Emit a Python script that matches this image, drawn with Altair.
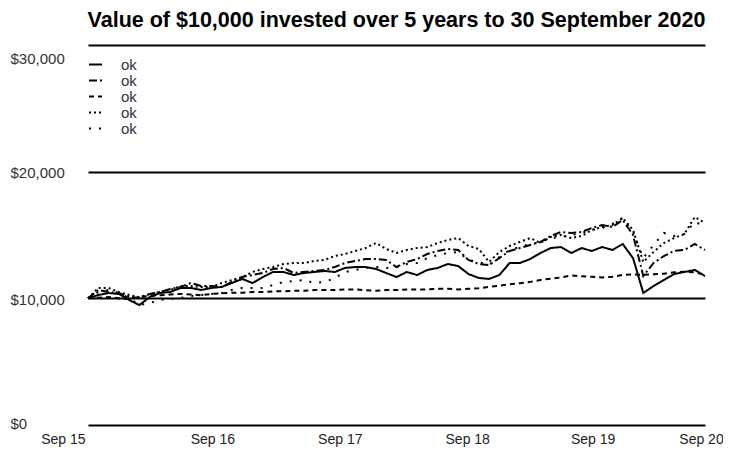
import altair as alt
import pandas as pd

months = list(range(61))

series_names = ["s1", "s2", "s3", "s4", "s5"]

s1 = [10000, 10260, 10420, 10340, 9870, 9470, 10100, 10420, 10500, 10820, 10820, 10660, 10820,
      10900, 11210, 11530, 11210, 11680, 12080, 12080, 11840, 12000, 12080, 12160, 12080,
      12400, 12470, 12470, 12320, 12000, 11680, 12080, 11840, 12240, 12400, 12710, 12550,
      11920, 11610, 11530, 11840, 12790, 12790, 13100, 13580, 13970, 14050, 13580, 13970,
      13740, 14050, 13820, 14290, 13180, 10420, 10970, 11450, 11920, 12080, 12240, 11760]

s2 = [10000, 10660, 10500, 10420, 10100, 10030, 10340, 10500, 10740, 10900, 11210, 10970, 10970,
      10900, 11290, 11680, 11840, 12000, 12320, 12400, 12000, 12080, 12160, 12240, 12470,
      12790, 12950, 13100, 13100, 13030, 12470, 12870, 13100, 13500, 13740, 13900, 13820,
      13030, 12710, 12630, 13180, 13740, 13970, 14210, 14450, 14920, 15240, 15160, 15240,
      15550, 15790, 15630, 16180, 15000, 11760, 12790, 13340, 13740, 13820, 14290, 13820]

s3 = [10000, 10050, 10100, 10000, 9950, 10100, 10200, 10250, 10300, 10350, 10300, 10250, 10350,
      10400, 10450, 10450, 10500, 10500, 10550, 10550, 10600, 10600, 10650, 10650, 10650,
      10700, 10700, 10650, 10600, 10650, 10650, 10700, 10700, 10700, 10750, 10750, 10700,
      10750, 10800, 10900, 11000, 11100, 11200, 11300, 11450, 11550, 11650, 11800, 11750,
      11700, 11650, 11700, 11850, 11900, 11850, 11900, 11950, 12050, 12100, 12050, 11850]

s4 = [10000, 10820, 10820, 10500, 10260, 10100, 10340, 10500, 10660, 10970, 10970, 10900, 10900,
      11210, 11450, 11680, 12080, 12320, 12470, 12710, 12790, 12790, 12950, 13030, 13340,
      13500, 13740, 13970, 14370, 13900, 13580, 13820, 13970, 14050, 14370, 14610, 14760,
      14130, 13900, 12870, 13660, 14130, 14450, 14760, 14370, 14840, 15000, 14760, 14920,
      15400, 15630, 15790, 16340, 15400, 12870, 13660, 14370, 14760, 15080, 16420, 15950]

s5 = [10000, 10500, 10660, 10420, 10030, 9470, 9630, 9870, 9950, 10030, 10180, 10260, 10340,
      10420, 10660, 10820, 10820, 10820, 11050, 11290, 11370, 11450, 11210, 11290, 11610,
      12080, 12240, 12400, 12470, 12400, 12470, 12710, 12790, 13180, 13420, 13580, 13660,
      13030, 12870, 12630, 13260, 13820, 14050, 14290, 14450, 14760, 14840, 15000, 15160,
      15400, 15550, 15870, 16340, 15240, 13180, 14210, 15160, 14920, 15080, 16030, 15710]

dashes = [[1, 0], [8, 3, 2, 3], [5, 4], [2, 3], [2, 8]]

x_ticks = [0, 12, 24, 36, 48, 60]
y_ticks = [0, 10000, 20000, 30000]

rows = []
for name, vals in zip(series_names, [s1, s2, s3, s4, s5]):
    for m, v in zip(months, vals):
        rows.append({"month": m, "value": v, "series": name})
df = pd.DataFrame(rows)

x_label_offset = ("datum.value == 0 ? -3 : datum.value == 12 ? 1 : datum.value == 24 ? 5 : "
                  "datum.value == 36 ? 9 : datum.value == 48 ? 11 : -4")

chart = alt.Chart(df).mark_line(color="black", strokeWidth=2).encode(
    x=alt.X("month:Q", scale=alt.Scale(domain=[0, 60], nice=False),
            axis=alt.Axis(values=x_ticks, title=None, grid=False, domain=False, ticks=False,
                          labelExpr="'Sep ' + (15 + datum.value / 12)",
                          labelAlign=alt.expr("datum.value == 0 ? 'right' : 'center'"),
                          labelOffset=alt.expr(x_label_offset),
                          labelFontSize=14, labelColor="#222", labelPadding=7,
                          labelFont="Liberation Sans")),
    y=alt.Y("value:Q", scale=alt.Scale(domain=[0, 30000], nice=False),
            axis=alt.Axis(values=y_ticks, title=None, domain=False, ticks=False, tickSize=0,
                          format="$,.0f", labelAlign="left", labelPadding=78,
                          labelOffset=alt.expr("datum.value == 30000 ? 13 : datum.value == 0 ? -2 : 1"),
                          labelFontSize=15, labelColor="#333", labelFont="Liberation Sans",
                          grid=True, gridColor="black", gridWidth=2, gridOpacity=1)),
    strokeDash=alt.StrokeDash("series:N",
                              scale=alt.Scale(domain=series_names, range=dashes),
                              legend=alt.Legend(title=None, orient="none", legendX=0, legendY=12,
                                                labelExpr="'ok'", symbolType="stroke",
                                                symbolSize=169, symbolStrokeWidth=2,
                                                symbolStrokeColor="black",
                                                labelFontSize=15, labelColor="#333",
                                                labelFont="Liberation Sans",
                                                labelOffset=18, rowPadding=0)),
    order="series:N",
).properties(
    width=617,
    height=380,
    autosize=alt.AutoSizeParams(type="none"),
    padding={"left": 80, "top": 37, "right": 18, "bottom": 24},
    title=alt.TitleParams("Value of $10,000 invested over 5 years to 30 September 2020",
                          fontSize=21.5, fontWeight="bold", font="Liberation Sans",
                          anchor="middle", offset=14, color="black"),
).configure_view(stroke=None)

chart.save("out.html", embed_options={"renderer": "svg", "actions": False})
